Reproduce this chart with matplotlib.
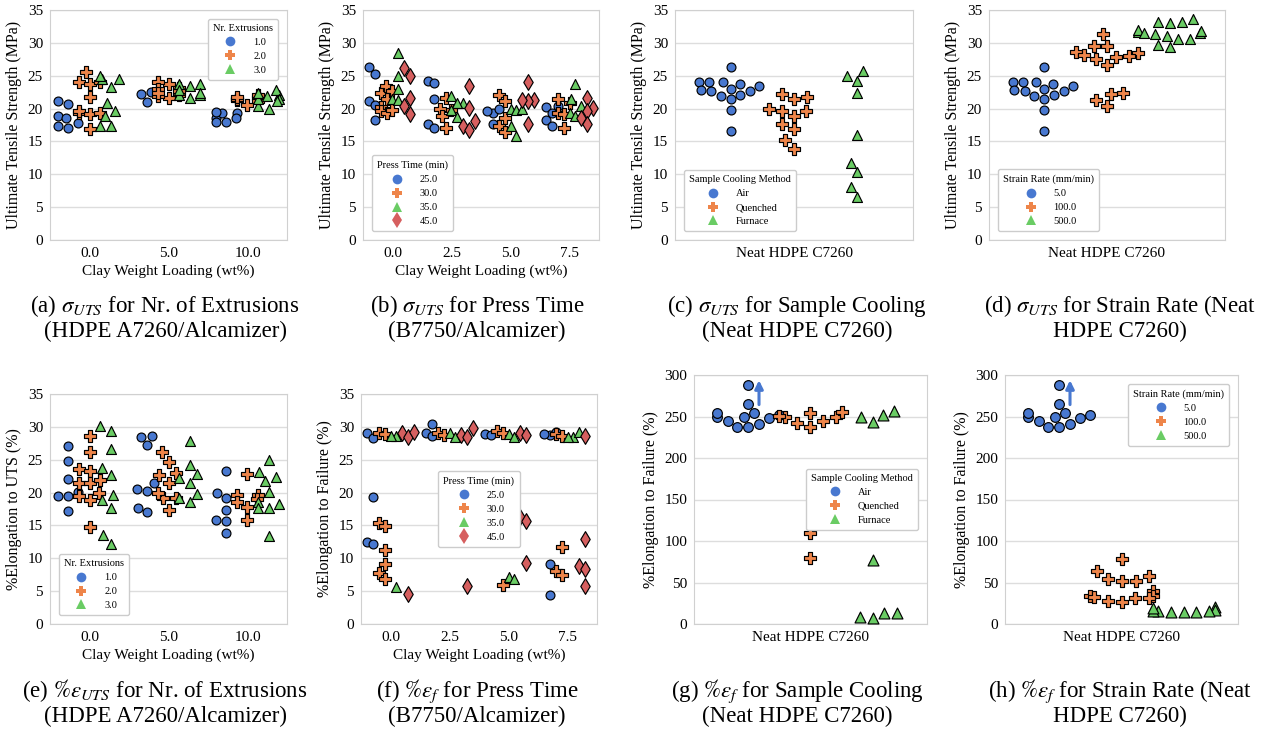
import warnings
import numpy as np
import matplotlib
matplotlib.use('Agg')
import matplotlib.pyplot as plt
from matplotlib.lines import Line2D
from matplotlib.collections import PathCollection
from seaborn.categorical import Beeswarm

warnings.filterwarnings('ignore')

plt.rcParams['font.family'] = ['Liberation Serif', 'DejaVu Serif']
plt.rcParams['mathtext.fontset'] = 'stix'

#  colours / markers per hue level (seaborn muted)
colors = ['#4878d0', '#ee854a', '#6acc64', '#d65f5f']
markers = ['o', 'P', '^', 'd']
#  the non-circle markers look smaller at equal size, so scale them up a bit
marker_scale = [1.0, 1.25, 1.12, 1.25]

#  (a) UTS vs nr. of extrusions, one list per clay loading
ext_cats = ['0.0', '5.0', '10.0']
ext_levels = ['1.0', '2.0', '3.0']
uts_ext_1 = [[21.1, 20.7, 18.8, 18.6, 17.8, 17.1, 17.4], [22.7, 22.5, 22.2, 21.0],
             [19.3, 18.6, 17.9, 19.3, 18.6, 17.9, 19.5]]
uts_ext_2 = [[25.5, 24.0, 23.7, 24.0, 21.8, 19.3, 19.6, 19.1, 19.4, 16.9],
             [23.7, 24.0, 23.2, 22.1, 21.6, 21.9, 22.6, 23.0, 22.4],
             [21.6, 22.1, 21.1, 20.6, 21.3, 21.4, 21.8]]
uts_ext_3 = [[24.5, 24.5, 24.9, 23.3, 20.8, 19.7, 18.9, 17.4, 17.4],
             [23.5, 23.7, 23.8, 22.0, 21.6, 22.1, 22.4, 22.9],
             [22.1, 22.9, 21.4, 21.9, 21.1, 20.4, 19.9, 21.4, 22.3]]

#  (b) UTS vs press time
press_cats = ['0.0', '2.5', '5.0', '7.5']
press_levels = ['25.0', '30.0', '35.0', '45.0']
uts_press_25 = [[26.4, 25.3, 21.2, 20.6, 18.2], [24.2, 23.9, 21.4, 17.7, 17.0],
                [19.3, 19.9, 19.6, 17.7], [20.2, 20.4, 18.3, 17.4, 19.3]]
uts_press_30 = [[22.4, 23.5, 22.6, 21.5, 20.3, 19.6, 19.3, 19.8], [21.6, 19.8, 19.9, 18.8, 17.0],
                [22.1, 21.1, 18.6, 17.3, 16.5], [21.5, 19.3, 19.2, 17.0, 20.8]]
uts_press_35 = [[28.5, 24.9, 23.0, 21.4, 21.3], [21.9, 20.9, 20.9, 19.8, 18.7],
                [19.9, 19.8, 19.9, 17.3, 15.9], [23.7, 21.4, 20.4, 19.4, 18.9]]
uts_press_45 = [[26.2, 25.0, 21.6, 20.4, 19.2], [23.4, 20.1, 17.4, 18.1, 16.8],
                [24.0, 21.3, 21.1, 21.3, 17.7], [21.6, 20.1, 19.6, 18.6, 17.7]]

#  (c) / (d) neat HDPE UTS
neat_cats = ['Neat HDPE C7260']
cool_levels = ['Air', 'Quenched', 'Furnace']
rate_levels = ['5.0', '100.0', '500.0']
uts_air = [24.1, 24.0, 23.8, 24.0, 26.4, 22.6, 21.9, 22.6, 23.4, 22.0, 22.8, 23.0, 21.4, 19.8, 16.6]
uts_quenched = [21.7, 21.4, 22.2, 19.6, 18.9, 19.6, 20.0, 17.7, 16.9, 15.2, 13.8]
uts_furnace = [24.9, 25.7, 24.2, 22.3, 16.0, 11.7, 10.3, 8.0, 6.6]
uts_rate_5 = uts_air
uts_rate_100 = [31.3, 29.5, 29.5, 28.6, 28.4, 28.0, 27.6, 27.9, 28.1, 26.6, 22.4, 22.2, 21.3, 20.4]
uts_rate_500 = [33.7, 33.1, 33.0, 33.2, 31.5, 31.3, 31.8, 31.7, 32.0, 31.5, 31.1, 30.6, 30.6,
                29.6, 29.4]

#  (e) elongation to UTS vs nr. of extrusions
elong_ext_1 = [[27.1, 24.8, 22.0, 19.5, 19.5, 20.1, 17.2],
               [28.6, 28.4, 27.2, 21.5, 20.5, 20.3, 17.6, 17.0],
               [23.3, 19.9, 19.1, 17.3, 15.9, 15.7, 13.8]]
elong_ext_2 = [[28.6, 26.2, 23.6, 23.3, 21.5, 21.4, 21.9, 20.0, 19.5, 18.8, 14.8],
               [26.2, 24.6, 23.0, 22.7, 21.5, 19.2, 19.1, 20.0, 17.4],
               [22.9, 19.6, 19.0, 19.6, 18.5, 17.8, 15.8]]
elong_ext_3 = [[30.2, 29.4, 26.6, 23.8, 22.7, 19.6, 18.8, 17.6, 13.5, 12.2],
               [27.9, 24.2, 22.8, 22.2, 21.5, 19.8, 19.2, 18.5],
               [24.9, 23.2, 22.3, 21.7, 20.1, 17.6, 18.6, 18.3, 17.6, 13.4]]

#  (f) elongation to failure vs press time
fail_press_25 = [[29.1, 28.3, 19.3, 12.5, 12.1], [29.0, 30.4, 28.6], [28.9, 28.8],
                 [28.7, 28.9, 29.2, 9.1, 4.4]]
fail_press_30 = [[29.1, 28.9, 15.3, 14.9, 11.2, 9.2, 7.8, 6.9], [29.1, 28.7], [29.3, 29.0, 5.9],
                 [28.9, 28.6, 11.7, 8.1, 7.4]]
fail_press_35 = [[29.4, 28.6, 28.6, 5.7], [29.1, 28.4], [28.9, 28.5, 7.1, 6.8], [28.5, 29.2, 28.5]]
fail_press_45 = [[29.0, 28.4, 29.2, 4.5], [28.7, 28.5, 29.8, 5.8], [29.0, 28.8, 16.3, 15.7, 9.3],
                 [28.6, 12.9, 8.8, 8.3, 5.8]]

#  (g) / (h) neat HDPE elongation to failure
fail_air = [254, 250, 252, 245, 237, 237, 241, 248, 254, 249, 265, 288]
fail_quenched = [254, 249, 242, 237, 245, 250, 255, 251, 110, 80]
fail_furnace = [249, 243, 252, 257, 77, 8.4, 7.2, 12.8, 13.6]
fail_rate_5 = fail_air
fail_rate_100 = [78.6, 64.2, 54.2, 52.1, 52.1, 57.4, 40.1, 33.3, 34.1, 32.1, 28.1, 26.5, 31.3, 31.3]
fail_rate_500 = [20.1, 15.2, 14.0, 14.0, 14.8, 16.0, 19.3, 16.5, 15.5]

W, H = 1261, 736
fig = plt.figure(figsize=(W / 100, H / 100), dpi=100)


def make_ax(l, t, r, b):
    return fig.add_axes([l / W, 1 - b / H, (r - l) / W, (b - t) / H])


def swarm(ax, cats, levels, series, size=6.4):
    """dodged swarm: one column per hue level inside each category,
    swarm width limited to that column (like seaborn's dodge)"""
    n = len(levels)
    each = 0.8 / n
    offsets = np.linspace(0, 0.8 - each, n)
    offsets -= offsets.mean()
    bee = Beeswarm(orient='x', width=each, warn_thresh=1.0)
    for i, vals in enumerate(series):
        for j, vs in enumerate(vals):
            center = j + offsets[i]
            pts = ax.scatter(np.full(len(vs), center), vs, s=(size * marker_scale[i]) ** 2,
                             marker=markers[i], c=colors[i], edgecolors='black',
                             linewidths=0.85, zorder=2 + i)

            def draw(renderer, pts=pts, center=center):
                if len(pts.get_offsets()) > 1:
                    bee(pts, center)
                PathCollection.draw(pts, renderer)
            pts.draw = draw
    ax.set_xticks(range(len(cats)), cats)
    ax.set_xlim(-0.5, len(cats) - 0.5)


def style(ax, ymax, step, ylabel, xlabel):
    ax.set_ylim(0, ymax)
    ax.set_yticks(range(0, ymax + 1, step))
    ax.grid(axis='y', color='#dddddd', lw=1.0)
    ax.set_axisbelow(True)
    for s in ax.spines.values():
        s.set_color('#d0d0d0')
    ax.tick_params(length=0, labelsize=11, pad=5)
    ax.set_ylabel(ylabel, fontsize=11.5, labelpad=4)
    ax.set_xlabel(xlabel, fontsize=11, labelpad=3)


def legend(ax, title, labels, **kw):
    handles = [Line2D([], [], ls='', marker=markers[i], color=colors[i],
                      markersize=7 * marker_scale[i] ** 0.5, markeredgewidth=0)
               for i in range(len(labels))]
    ax.legend(handles, labels, title=title, fontsize=7.5, title_fontsize=7.5,
              edgecolor='#cccccc', framealpha=1, borderpad=0.5, labelspacing=0.45,
              handletextpad=1.2, **kw)


uts_lbl = 'Ultimate Tensile Strength (MPa)'
fail_lbl = '%Elongation to Failure (%)'
clay_lbl = 'Clay Weight Loading (wt%)'

# (a)
ax = make_ax(50, 10, 287, 240)
swarm(ax, ext_cats, ext_levels, [uts_ext_1, uts_ext_2, uts_ext_3])
style(ax, 35, 5, uts_lbl, clay_lbl)
legend(ax, 'Nr. Extrusions', ext_levels, loc='upper right', bbox_to_anchor=(0.985, 0.985))

# (b)
ax = make_ax(363, 10, 599, 240)
swarm(ax, press_cats, press_levels, [uts_press_25, uts_press_30, uts_press_35, uts_press_45])
style(ax, 35, 5, uts_lbl, clay_lbl)
legend(ax, 'Press Time (min)', press_levels, loc='lower left', bbox_to_anchor=(0.015, 0.015))

# (c)
ax = make_ax(675, 10, 913, 240)
swarm(ax, neat_cats, cool_levels, [[uts_air], [uts_quenched], [uts_furnace]])
style(ax, 35, 5, uts_lbl, '')
legend(ax, 'Sample Cooling Method', cool_levels, loc='lower left', bbox_to_anchor=(0.015, 0.015))

# (d)
ax = make_ax(989, 10, 1225, 240)
swarm(ax, neat_cats, rate_levels, [[uts_rate_5], [uts_rate_100], [uts_rate_500]])
style(ax, 35, 5, uts_lbl, '')
legend(ax, 'Strain Rate (mm/min)', rate_levels, loc='lower left', bbox_to_anchor=(0.015, 0.015))

# (e)
ax = make_ax(50, 394, 287, 624)
swarm(ax, ext_cats, ext_levels, [elong_ext_1, elong_ext_2, elong_ext_3])
style(ax, 35, 5, '%Elongation to UTS (%)', clay_lbl)
legend(ax, 'Nr. Extrusions', ext_levels, loc='lower left', bbox_to_anchor=(0.015, 0.015))

# (f)
ax = make_ax(361, 394, 597, 624)
swarm(ax, press_cats, press_levels, [fail_press_25, fail_press_30, fail_press_35, fail_press_45])
style(ax, 35, 5, fail_lbl, clay_lbl)
legend(ax, 'Press Time (min)', press_levels, loc='center')

# (g)
ax = make_ax(694, 375, 927, 624)
swarm(ax, neat_cats, cool_levels, [[fail_air], [fail_quenched], [fail_furnace]], size=7.0)
style(ax, 300, 50, fail_lbl, '')
ax.annotate('', xy=(-0.221, 297), xytext=(-0.221, 261),
            arrowprops=dict(arrowstyle='-|>', color=colors[0], lw=2.2, mutation_scale=12))
legend(ax, 'Sample Cooling Method', cool_levels, loc='center right', bbox_to_anchor=(0.985, 0.5))

# (h)
ax = make_ax(1005, 375, 1238, 624)
swarm(ax, neat_cats, rate_levels, [[fail_rate_5], [fail_rate_100], [fail_rate_500]], size=7.0)
style(ax, 300, 50, fail_lbl, '')
ax.annotate('', xy=(-0.221, 297), xytext=(-0.221, 261),
            arrowprops=dict(arrowstyle='-|>', color=colors[0], lw=2.2, mutation_scale=12))
legend(ax, 'Strain Rate (mm/min)', rate_levels, loc='upper right', bbox_to_anchor=(0.985, 0.985))

#  sub-figure captions
captions = [
    (165, 306, r'(a) $\sigma_{UTS}$ for Nr. of Extrusions', '(HDPE A7260/Alcamizer)'),
    (477, 306, r'(b) $\sigma_{UTS}$ for Press Time', '(B7750/Alcamizer)'),
    (797, 306, r'(c) $\sigma_{UTS}$ for Sample Cooling', '(Neat HDPE C7260)'),
    (1120, 306, r'(d) $\sigma_{UTS}$ for Strain Rate (Neat', 'HDPE C7260)'),
    (165, 691, r'(e) $\%\varepsilon_{UTS}$ for Nr. of Extrusions', '(HDPE A7260/Alcamizer)'),
    (477, 691, r'(f) $\%\varepsilon_{f}$ for Press Time', '(B7750/Alcamizer)'),
    (797, 691, r'(g) $\%\varepsilon_{f}$ for Sample Cooling', '(Neat HDPE C7260)'),
    (1120, 691, r'(h) $\%\varepsilon_{f}$ for Strain Rate (Neat', 'HDPE C7260)'),
]
for x, y, line1, line2 in captions:
    fig.text(x / W, 1 - y / H, line1, ha='center', va='center', fontsize=16.5)
    fig.text(x / W, 1 - (y + 25) / H, line2, ha='center', va='center', fontsize=16.5)

fig.savefig('out.png', dpi=100)
